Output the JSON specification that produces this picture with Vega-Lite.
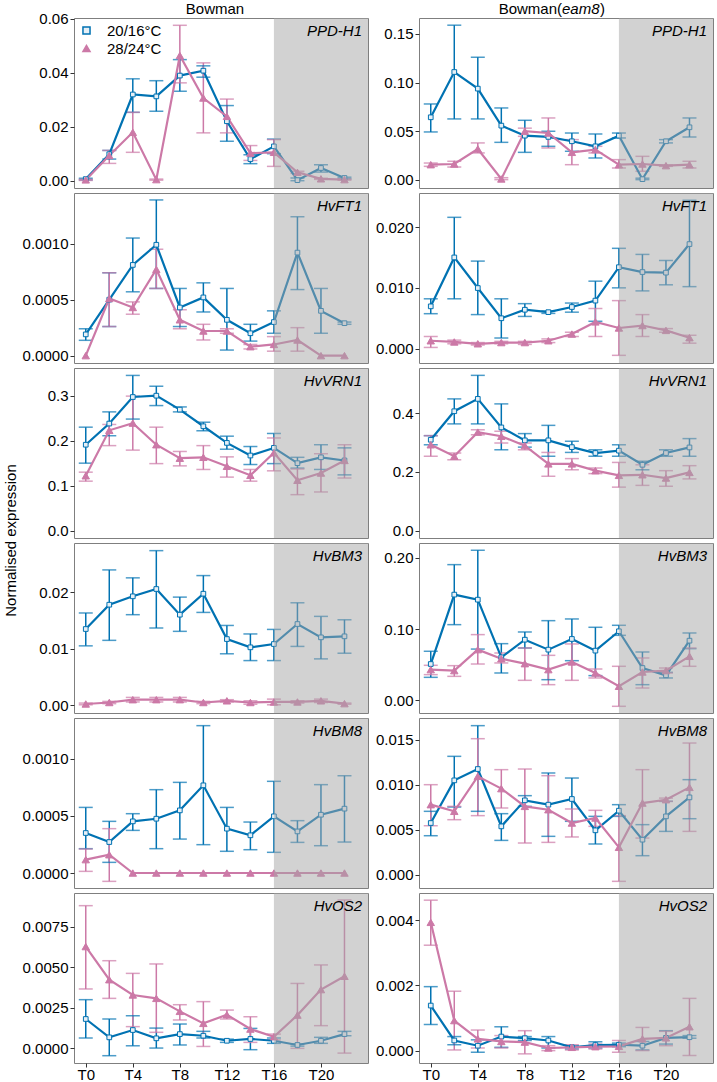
{
"$schema": "https://vega.github.io/schema/vega-lite/v6.json",
"padding": {"left": 2, "top": 1, "right": 0, "bottom": 0},
"datasets": {"d": [
{"g":"PPD-H1","c":"B","k":"20/16°C","t":0,"v":0.0006,"lo":0.0003,"hi":0.0009},
{"g":"PPD-H1","c":"B","k":"20/16°C","t":2,"v":0.0098,"lo":0.008,"hi":0.0112},
{"g":"PPD-H1","c":"B","k":"20/16°C","t":4,"v":0.0319,"lo":0.0253,"hi":0.0377},
{"g":"PPD-H1","c":"B","k":"20/16°C","t":6,"v":0.0312,"lo":0.0257,"hi":0.037},
{"g":"PPD-H1","c":"B","k":"20/16°C","t":8,"v":0.0389,"lo":0.0331,"hi":0.0448},
{"g":"PPD-H1","c":"B","k":"20/16°C","t":10,"v":0.0407,"lo":0.0383,"hi":0.0425},
{"g":"PPD-H1","c":"B","k":"20/16°C","t":12,"v":0.022,"lo":0.0146,"hi":0.0278},
{"g":"PPD-H1","c":"B","k":"20/16°C","t":14,"v":0.008,"lo":0.0063,"hi":0.0096},
{"g":"PPD-H1","c":"B","k":"20/16°C","t":16,"v":0.0127,"lo":0.01,"hi":0.0154},
{"g":"PPD-H1","c":"B","k":"20/16°C","t":18,"v":0.0002,"lo":0.0,"hi":0.001},
{"g":"PPD-H1","c":"B","k":"20/16°C","t":20,"v":0.0047,"lo":0.0032,"hi":0.0059},
{"g":"PPD-H1","c":"B","k":"20/16°C","t":22,"v":0.001,"lo":0.0007,"hi":0.0013},
{"g":"PPD-H1","c":"B","k":"28/24°C","t":0,"v":0.0003,"lo":0.0001,"hi":0.0005},
{"g":"PPD-H1","c":"B","k":"28/24°C","t":2,"v":0.0093,"lo":0.0064,"hi":0.0112},
{"g":"PPD-H1","c":"B","k":"28/24°C","t":4,"v":0.0179,"lo":0.0105,"hi":0.0253},
{"g":"PPD-H1","c":"B","k":"28/24°C","t":6,"v":0.0004,"lo":0.0002,"hi":0.0006},
{"g":"PPD-H1","c":"B","k":"28/24°C","t":8,"v":0.0463,"lo":0.0362,"hi":0.0575},
{"g":"PPD-H1","c":"B","k":"28/24°C","t":10,"v":0.0306,"lo":0.0177,"hi":0.0436},
{"g":"PPD-H1","c":"B","k":"28/24°C","t":12,"v":0.0238,"lo":0.0177,"hi":0.0302},
{"g":"PPD-H1","c":"B","k":"28/24°C","t":14,"v":0.0102,"lo":0.0075,"hi":0.013},
{"g":"PPD-H1","c":"B","k":"28/24°C","t":16,"v":0.0105,"lo":0.0053,"hi":0.0152},
{"g":"PPD-H1","c":"B","k":"28/24°C","t":18,"v":0.0031,"lo":0.0027,"hi":0.0035},
{"g":"PPD-H1","c":"B","k":"28/24°C","t":20,"v":0.0007,"lo":0.0005,"hi":0.0009},
{"g":"PPD-H1","c":"B","k":"28/24°C","t":22,"v":0.0004,"lo":0.0002,"hi":0.0006},

{"g":"PPD-H1","c":"E","k":"20/16°C","t":0,"v":0.0642,"lo":0.0491,"hi":0.0779},
{"g":"PPD-H1","c":"E","k":"20/16°C","t":2,"v":0.1108,"lo":0.0625,"hi":0.159},
{"g":"PPD-H1","c":"E","k":"20/16°C","t":4,"v":0.0937,"lo":0.0625,"hi":0.126},
{"g":"PPD-H1","c":"E","k":"20/16°C","t":6,"v":0.0556,"lo":0.0384,"hi":0.0738},
{"g":"PPD-H1","c":"E","k":"20/16°C","t":8,"v":0.0453,"lo":0.0281,"hi":0.0611},
{"g":"PPD-H1","c":"E","k":"20/16°C","t":10,"v":0.044,"lo":0.0343,"hi":0.0498},
{"g":"PPD-H1","c":"E","k":"20/16°C","t":12,"v":0.0395,"lo":0.0292,"hi":0.048},
{"g":"PPD-H1","c":"E","k":"20/16°C","t":14,"v":0.0343,"lo":0.0223,"hi":0.047},
{"g":"PPD-H1","c":"E","k":"20/16°C","t":16,"v":0.0453,"lo":0.0429,"hi":0.048},
{"g":"PPD-H1","c":"E","k":"20/16°C","t":18,"v":0.0005,"lo":0.0,"hi":0.0015},
{"g":"PPD-H1","c":"E","k":"20/16°C","t":20,"v":0.0395,"lo":0.0378,"hi":0.0412},
{"g":"PPD-H1","c":"E","k":"20/16°C","t":22,"v":0.0539,"lo":0.0439,"hi":0.0635},
{"g":"PPD-H1","c":"E","k":"28/24°C","t":0,"v":0.0154,"lo":0.0137,"hi":0.0171},
{"g":"PPD-H1","c":"E","k":"28/24°C","t":2,"v":0.0161,"lo":0.013,"hi":0.0189},
{"g":"PPD-H1","c":"E","k":"28/24°C","t":4,"v":0.0316,"lo":0.0275,"hi":0.0378},
{"g":"PPD-H1","c":"E","k":"28/24°C","t":6,"v":0.0007,"lo":0.0,"hi":0.002},
{"g":"PPD-H1","c":"E","k":"28/24°C","t":8,"v":0.0498,"lo":0.0446,"hi":0.053},
{"g":"PPD-H1","c":"E","k":"28/24°C","t":10,"v":0.048,"lo":0.0326,"hi":0.0635},
{"g":"PPD-H1","c":"E","k":"28/24°C","t":12,"v":0.0281,"lo":0.0154,"hi":0.0412},
{"g":"PPD-H1","c":"E","k":"28/24°C","t":14,"v":0.0309,"lo":0.0275,"hi":0.0343},
{"g":"PPD-H1","c":"E","k":"28/24°C","t":16,"v":0.0154,"lo":0.012,"hi":0.0206},
{"g":"PPD-H1","c":"E","k":"28/24°C","t":18,"v":0.0161,"lo":0.0086,"hi":0.024},
{"g":"PPD-H1","c":"E","k":"28/24°C","t":20,"v":0.0144,"lo":0.0137,"hi":0.0151},
{"g":"PPD-H1","c":"E","k":"28/24°C","t":22,"v":0.0154,"lo":0.012,"hi":0.0189},

{"g":"HvFT1","c":"B","k":"20/16°C","t":0,"v":0.00019,"lo":0.000137,"hi":0.00024},
{"g":"HvFT1","c":"B","k":"20/16°C","t":2,"v":0.0005,"lo":0.00026,"hi":0.00074},
{"g":"HvFT1","c":"B","k":"20/16°C","t":4,"v":0.00081,"lo":0.00057,"hi":0.00105},
{"g":"HvFT1","c":"B","k":"20/16°C","t":6,"v":0.00099,"lo":0.0006,"hi":0.00139},
{"g":"HvFT1","c":"B","k":"20/16°C","t":8,"v":0.00043,"lo":0.00026,"hi":0.0006},
{"g":"HvFT1","c":"B","k":"20/16°C","t":10,"v":0.00052,"lo":0.00039,"hi":0.00065},
{"g":"HvFT1","c":"B","k":"20/16°C","t":12,"v":0.00032,"lo":0.00005,"hi":0.0006},
{"g":"HvFT1","c":"B","k":"20/16°C","t":14,"v":0.0002,"lo":0.00013,"hi":0.00028},
{"g":"HvFT1","c":"B","k":"20/16°C","t":16,"v":0.0003,"lo":0.0002,"hi":0.0004},
{"g":"HvFT1","c":"B","k":"20/16°C","t":18,"v":0.00092,"lo":0.00059,"hi":0.00124},
{"g":"HvFT1","c":"B","k":"20/16°C","t":20,"v":0.0004,"lo":0.0002,"hi":0.0006},
{"g":"HvFT1","c":"B","k":"20/16°C","t":22,"v":0.00029,"lo":0.00028,"hi":0.0003},
{"g":"HvFT1","c":"B","k":"28/24°C","t":0,"v":0.0,"lo":0.0,"hi":0.0},
{"g":"HvFT1","c":"B","k":"28/24°C","t":2,"v":0.00051,"lo":0.00026,"hi":0.00074},
{"g":"HvFT1","c":"B","k":"28/24°C","t":4,"v":0.00043,"lo":0.00037,"hi":0.00048},
{"g":"HvFT1","c":"B","k":"28/24°C","t":6,"v":0.00077,"lo":0.0006,"hi":0.00095},
{"g":"HvFT1","c":"B","k":"28/24°C","t":8,"v":0.00032,"lo":0.00024,"hi":0.00041},
{"g":"HvFT1","c":"B","k":"28/24°C","t":10,"v":0.00022,"lo":0.00014,"hi":0.00028},
{"g":"HvFT1","c":"B","k":"28/24°C","t":12,"v":0.00022,"lo":0.0002,"hi":0.00024},
{"g":"HvFT1","c":"B","k":"28/24°C","t":14,"v":0.00008,"lo":0.00006,"hi":0.0001},
{"g":"HvFT1","c":"B","k":"28/24°C","t":16,"v":0.0001,"lo":0.00004,"hi":0.00017},
{"g":"HvFT1","c":"B","k":"28/24°C","t":18,"v":0.00014,"lo":0.00004,"hi":0.00025},
{"g":"HvFT1","c":"B","k":"28/24°C","t":20,"v":0.0,"lo":0.0,"hi":0.0},
{"g":"HvFT1","c":"B","k":"28/24°C","t":22,"v":0.0,"lo":0.0,"hi":0.0},

{"g":"HvFT1","c":"E","k":"20/16°C","t":0,"v":0.00696,"lo":0.00575,"hi":0.0082},
{"g":"HvFT1","c":"E","k":"20/16°C","t":2,"v":0.015,"lo":0.0082,"hi":0.0216},
{"g":"HvFT1","c":"E","k":"20/16°C","t":4,"v":0.00997,"lo":0.0056,"hi":0.0144},
{"g":"HvFT1","c":"E","k":"20/16°C","t":6,"v":0.005,"lo":0.00175,"hi":0.0082},
{"g":"HvFT1","c":"E","k":"20/16°C","t":8,"v":0.0064,"lo":0.0053,"hi":0.0074},
{"g":"HvFT1","c":"E","k":"20/16°C","t":10,"v":0.006,"lo":0.0058,"hi":0.0062},
{"g":"HvFT1","c":"E","k":"20/16°C","t":12,"v":0.00685,"lo":0.006,"hi":0.0075},
{"g":"HvFT1","c":"E","k":"20/16°C","t":14,"v":0.0079,"lo":0.0045,"hi":0.0111},
{"g":"HvFT1","c":"E","k":"20/16°C","t":16,"v":0.0134,"lo":0.01,"hi":0.0165},
{"g":"HvFT1","c":"E","k":"20/16°C","t":18,"v":0.0126,"lo":0.0095,"hi":0.0155},
{"g":"HvFT1","c":"E","k":"20/16°C","t":20,"v":0.0125,"lo":0.0105,"hi":0.0145},
{"g":"HvFT1","c":"E","k":"20/16°C","t":22,"v":0.0172,"lo":0.0102,"hi":0.0244},
{"g":"HvFT1","c":"E","k":"28/24°C","t":0,"v":0.0013,"lo":0.0002,"hi":0.002},
{"g":"HvFT1","c":"E","k":"28/24°C","t":2,"v":0.0011,"lo":0.0008,"hi":0.0014},
{"g":"HvFT1","c":"E","k":"28/24°C","t":4,"v":0.0008,"lo":0.0006,"hi":0.001},
{"g":"HvFT1","c":"E","k":"28/24°C","t":6,"v":0.001,"lo":0.0008,"hi":0.0012},
{"g":"HvFT1","c":"E","k":"28/24°C","t":8,"v":0.001,"lo":0.0007,"hi":0.0012},
{"g":"HvFT1","c":"E","k":"28/24°C","t":10,"v":0.0013,"lo":0.001,"hi":0.0016},
{"g":"HvFT1","c":"E","k":"28/24°C","t":12,"v":0.0024,"lo":0.002,"hi":0.0027},
{"g":"HvFT1","c":"E","k":"28/24°C","t":14,"v":0.0044,"lo":0.002,"hi":0.0066},
{"g":"HvFT1","c":"E","k":"28/24°C","t":16,"v":0.0034,"lo":-0.0011,"hi":0.0079},
{"g":"HvFT1","c":"E","k":"28/24°C","t":18,"v":0.0038,"lo":0.002,"hi":0.0056},
{"g":"HvFT1","c":"E","k":"28/24°C","t":20,"v":0.003,"lo":0.0027,"hi":0.0033},
{"g":"HvFT1","c":"E","k":"28/24°C","t":22,"v":0.0018,"lo":0.0009,"hi":0.0022},

{"g":"HvVRN1","c":"B","k":"20/16°C","t":0,"v":0.191,"lo":0.15,"hi":0.23},
{"g":"HvVRN1","c":"B","k":"20/16°C","t":2,"v":0.238,"lo":0.211,"hi":0.264},
{"g":"HvVRN1","c":"B","k":"20/16°C","t":4,"v":0.297,"lo":0.248,"hi":0.345},
{"g":"HvVRN1","c":"B","k":"20/16°C","t":6,"v":0.3,"lo":0.278,"hi":0.321},
{"g":"HvVRN1","c":"B","k":"20/16°C","t":8,"v":0.269,"lo":0.264,"hi":0.275},
{"g":"HvVRN1","c":"B","k":"20/16°C","t":10,"v":0.232,"lo":0.222,"hi":0.241},
{"g":"HvVRN1","c":"B","k":"20/16°C","t":12,"v":0.195,"lo":0.181,"hi":0.21},
{"g":"HvVRN1","c":"B","k":"20/16°C","t":14,"v":0.167,"lo":0.147,"hi":0.187},
{"g":"HvVRN1","c":"B","k":"20/16°C","t":16,"v":0.184,"lo":0.149,"hi":0.216},
{"g":"HvVRN1","c":"B","k":"20/16°C","t":18,"v":0.15,"lo":0.139,"hi":0.163},
{"g":"HvVRN1","c":"B","k":"20/16°C","t":20,"v":0.163,"lo":0.136,"hi":0.191},
{"g":"HvVRN1","c":"B","k":"20/16°C","t":22,"v":0.156,"lo":0.124,"hi":0.184},
{"g":"HvVRN1","c":"B","k":"28/24°C","t":0,"v":0.122,"lo":0.11,"hi":0.13},
{"g":"HvVRN1","c":"B","k":"28/24°C","t":2,"v":0.223,"lo":0.189,"hi":0.236},
{"g":"HvVRN1","c":"B","k":"28/24°C","t":4,"v":0.239,"lo":0.179,"hi":0.299},
{"g":"HvVRN1","c":"B","k":"28/24°C","t":6,"v":0.191,"lo":0.149,"hi":0.23},
{"g":"HvVRN1","c":"B","k":"28/24°C","t":8,"v":0.161,"lo":0.144,"hi":0.176},
{"g":"HvVRN1","c":"B","k":"28/24°C","t":10,"v":0.163,"lo":0.136,"hi":0.189},
{"g":"HvVRN1","c":"B","k":"28/24°C","t":12,"v":0.143,"lo":0.119,"hi":0.164},
{"g":"HvVRN1","c":"B","k":"28/24°C","t":14,"v":0.123,"lo":0.11,"hi":0.136},
{"g":"HvVRN1","c":"B","k":"28/24°C","t":16,"v":0.173,"lo":0.133,"hi":0.206},
{"g":"HvVRN1","c":"B","k":"28/24°C","t":18,"v":0.112,"lo":0.08,"hi":0.137},
{"g":"HvVRN1","c":"B","k":"28/24°C","t":20,"v":0.128,"lo":0.086,"hi":0.171},
{"g":"HvVRN1","c":"B","k":"28/24°C","t":22,"v":0.156,"lo":0.117,"hi":0.191},

{"g":"HvVRN1","c":"E","k":"20/16°C","t":0,"v":0.309,"lo":0.292,"hi":0.323},
{"g":"HvVRN1","c":"E","k":"20/16°C","t":2,"v":0.406,"lo":0.363,"hi":0.448},
{"g":"HvVRN1","c":"E","k":"20/16°C","t":4,"v":0.448,"lo":0.363,"hi":0.528},
{"g":"HvVRN1","c":"E","k":"20/16°C","t":6,"v":0.351,"lo":0.275,"hi":0.431},
{"g":"HvVRN1","c":"E","k":"20/16°C","t":8,"v":0.307,"lo":0.284,"hi":0.33},
{"g":"HvVRN1","c":"E","k":"20/16°C","t":10,"v":0.307,"lo":0.253,"hi":0.358},
{"g":"HvVRN1","c":"E","k":"20/16°C","t":12,"v":0.284,"lo":0.266,"hi":0.304},
{"g":"HvVRN1","c":"E","k":"20/16°C","t":14,"v":0.264,"lo":0.253,"hi":0.275},
{"g":"HvVRN1","c":"E","k":"20/16°C","t":16,"v":0.272,"lo":0.253,"hi":0.292},
{"g":"HvVRN1","c":"E","k":"20/16°C","t":18,"v":0.224,"lo":0.207,"hi":0.236},
{"g":"HvVRN1","c":"E","k":"20/16°C","t":20,"v":0.264,"lo":0.253,"hi":0.275},
{"g":"HvVRN1","c":"E","k":"20/16°C","t":22,"v":0.283,"lo":0.253,"hi":0.313},
{"g":"HvVRN1","c":"E","k":"28/24°C","t":0,"v":0.292,"lo":0.253,"hi":0.323},
{"g":"HvVRN1","c":"E","k":"28/24°C","t":2,"v":0.253,"lo":0.241,"hi":0.264},
{"g":"HvVRN1","c":"E","k":"28/24°C","t":4,"v":0.335,"lo":0.326,"hi":0.343},
{"g":"HvVRN1","c":"E","k":"28/24°C","t":6,"v":0.321,"lo":0.298,"hi":0.338},
{"g":"HvVRN1","c":"E","k":"28/24°C","t":8,"v":0.289,"lo":0.275,"hi":0.298},
{"g":"HvVRN1","c":"E","k":"28/24°C","t":10,"v":0.227,"lo":0.185,"hi":0.266},
{"g":"HvVRN1","c":"E","k":"28/24°C","t":12,"v":0.227,"lo":0.207,"hi":0.245},
{"g":"HvVRN1","c":"E","k":"28/24°C","t":14,"v":0.204,"lo":0.194,"hi":0.213},
{"g":"HvVRN1","c":"E","k":"28/24°C","t":16,"v":0.188,"lo":0.148,"hi":0.232},
{"g":"HvVRN1","c":"E","k":"28/24°C","t":18,"v":0.19,"lo":0.154,"hi":0.224},
{"g":"HvVRN1","c":"E","k":"28/24°C","t":20,"v":0.179,"lo":0.151,"hi":0.204},
{"g":"HvVRN1","c":"E","k":"28/24°C","t":22,"v":0.198,"lo":0.176,"hi":0.221},

{"g":"HvBM3","c":"B","k":"20/16°C","t":0,"v":0.01347,"lo":0.0105,"hi":0.0163},
{"g":"HvBM3","c":"B","k":"20/16°C","t":2,"v":0.01776,"lo":0.01147,"hi":0.0239},
{"g":"HvBM3","c":"B","k":"20/16°C","t":4,"v":0.01924,"lo":0.016,"hi":0.0225},
{"g":"HvBM3","c":"B","k":"20/16°C","t":6,"v":0.02053,"lo":0.01365,"hi":0.0273},
{"g":"HvBM3","c":"B","k":"20/16°C","t":8,"v":0.016,"lo":0.01306,"hi":0.0191},
{"g":"HvBM3","c":"B","k":"20/16°C","t":10,"v":0.0197,"lo":0.0164,"hi":0.0229},
{"g":"HvBM3","c":"B","k":"20/16°C","t":12,"v":0.0117,"lo":0.0091,"hi":0.0141},
{"g":"HvBM3","c":"B","k":"20/16°C","t":14,"v":0.01024,"lo":0.0079,"hi":0.0126},
{"g":"HvBM3","c":"B","k":"20/16°C","t":16,"v":0.01082,"lo":0.0079,"hi":0.0134},
{"g":"HvBM3","c":"B","k":"20/16°C","t":18,"v":0.01435,"lo":0.0104,"hi":0.0181},
{"g":"HvBM3","c":"B","k":"20/16°C","t":20,"v":0.012,"lo":0.0082,"hi":0.0157},
{"g":"HvBM3","c":"B","k":"20/16°C","t":22,"v":0.01218,"lo":0.0092,"hi":0.0151},
{"g":"HvBM3","c":"B","k":"28/24°C","t":0,"v":0.00024,"lo":0.0001,"hi":0.0004},
{"g":"HvBM3","c":"B","k":"28/24°C","t":2,"v":0.0005,"lo":0.0003,"hi":0.0007},
{"g":"HvBM3","c":"B","k":"28/24°C","t":4,"v":0.001,"lo":0.0006,"hi":0.0014},
{"g":"HvBM3","c":"B","k":"28/24°C","t":6,"v":0.001,"lo":0.0006,"hi":0.0014},
{"g":"HvBM3","c":"B","k":"28/24°C","t":8,"v":0.001,"lo":0.0006,"hi":0.0014},
{"g":"HvBM3","c":"B","k":"28/24°C","t":10,"v":0.0005,"lo":0.0003,"hi":0.0007},
{"g":"HvBM3","c":"B","k":"28/24°C","t":12,"v":0.0008,"lo":0.0006,"hi":0.001},
{"g":"HvBM3","c":"B","k":"28/24°C","t":14,"v":0.0005,"lo":0.0002,"hi":0.0008},
{"g":"HvBM3","c":"B","k":"28/24°C","t":16,"v":0.0006,"lo":0.0001,"hi":0.0011},
{"g":"HvBM3","c":"B","k":"28/24°C","t":18,"v":0.0006,"lo":0.0004,"hi":0.0008},
{"g":"HvBM3","c":"B","k":"28/24°C","t":20,"v":0.0008,"lo":0.0005,"hi":0.0011},
{"g":"HvBM3","c":"B","k":"28/24°C","t":22,"v":0.0003,"lo":0.0002,"hi":0.0004},

{"g":"HvBM3","c":"E","k":"20/16°C","t":0,"v":0.051,"lo":0.0323,"hi":0.0689},
{"g":"HvBM3","c":"E","k":"20/16°C","t":2,"v":0.1485,"lo":0.1063,"hi":0.1906},
{"g":"HvBM3","c":"E","k":"20/16°C","t":4,"v":0.1414,"lo":0.072,"hi":0.2108},
{"g":"HvBM3","c":"E","k":"20/16°C","t":6,"v":0.0604,"lo":0.0384,"hi":0.0796},
{"g":"HvBM3","c":"E","k":"20/16°C","t":8,"v":0.0852,"lo":0.0735,"hi":0.096},
{"g":"HvBM3","c":"E","k":"20/16°C","t":10,"v":0.0712,"lo":0.029,"hi":0.1119},
{"g":"HvBM3","c":"E","k":"20/16°C","t":12,"v":0.0862,"lo":0.0557,"hi":0.1143},
{"g":"HvBM3","c":"E","k":"20/16°C","t":14,"v":0.0698,"lo":0.0347,"hi":0.1026},
{"g":"HvBM3","c":"E","k":"20/16°C","t":16,"v":0.097,"lo":0.0913,"hi":0.1054},
{"g":"HvBM3","c":"E","k":"20/16°C","t":18,"v":0.0454,"lo":0.022,"hi":0.0679},
{"g":"HvBM3","c":"E","k":"20/16°C","t":20,"v":0.0351,"lo":0.0314,"hi":0.0393},
{"g":"HvBM3","c":"E","k":"20/16°C","t":22,"v":0.0838,"lo":0.0726,"hi":0.0946},
{"g":"HvBM3","c":"E","k":"28/24°C","t":0,"v":0.0431,"lo":0.0361,"hi":0.0492},
{"g":"HvBM3","c":"E","k":"28/24°C","t":2,"v":0.0417,"lo":0.0337,"hi":0.0487},
{"g":"HvBM3","c":"E","k":"28/24°C","t":4,"v":0.0712,"lo":0.051,"hi":0.0923},
{"g":"HvBM3","c":"E","k":"28/24°C","t":6,"v":0.0585,"lo":0.0525,"hi":0.0665},
{"g":"HvBM3","c":"E","k":"28/24°C","t":8,"v":0.0515,"lo":0.0281,"hi":0.0735},
{"g":"HvBM3","c":"E","k":"28/24°C","t":10,"v":0.0431,"lo":0.022,"hi":0.0632},
{"g":"HvBM3","c":"E","k":"28/24°C","t":12,"v":0.0539,"lo":0.0281,"hi":0.0792},
{"g":"HvBM3","c":"E","k":"28/24°C","t":14,"v":0.0384,"lo":0.0314,"hi":0.044},
{"g":"HvBM3","c":"E","k":"28/24°C","t":16,"v":0.0197,"lo":-0.0084,"hi":0.0478},
{"g":"HvBM3","c":"E","k":"28/24°C","t":18,"v":0.0398,"lo":0.0173,"hi":0.0595},
{"g":"HvBM3","c":"E","k":"28/24°C","t":20,"v":0.0417,"lo":0.0384,"hi":0.0454},
{"g":"HvBM3","c":"E","k":"28/24°C","t":22,"v":0.0618,"lo":0.0478,"hi":0.0735},

{"g":"HvBM8","c":"B","k":"20/16°C","t":0,"v":0.00035,"lo":0.000213,"hi":0.000574},
{"g":"HvBM8","c":"B","k":"20/16°C","t":2,"v":0.000271,"lo":0.0000933,"hi":0.000452},
{"g":"HvBM8","c":"B","k":"20/16°C","t":4,"v":0.000452,"lo":0.000373,"hi":0.000519},
{"g":"HvBM8","c":"B","k":"20/16°C","t":6,"v":0.000475,"lo":0.000213,"hi":0.000729},
{"g":"HvBM8","c":"B","k":"20/16°C","t":8,"v":0.000548,"lo":0.000297,"hi":0.000793},
{"g":"HvBM8","c":"B","k":"20/16°C","t":10,"v":0.000767,"lo":0.000248,"hi":0.001289},
{"g":"HvBM8","c":"B","k":"20/16°C","t":12,"v":0.000388,"lo":0.00019,"hi":0.000574},
{"g":"HvBM8","c":"B","k":"20/16°C","t":14,"v":0.00033,"lo":0.000204,"hi":0.000446},
{"g":"HvBM8","c":"B","k":"20/16°C","t":16,"v":0.000496,"lo":0.000181,"hi":0.000802},
{"g":"HvBM8","c":"B","k":"20/16°C","t":18,"v":0.000364,"lo":0.000268,"hi":0.000458},
{"g":"HvBM8","c":"B","k":"20/16°C","t":20,"v":0.00051,"lo":0.000239,"hi":0.000773},
{"g":"HvBM8","c":"B","k":"20/16°C","t":22,"v":0.000563,"lo":0.000271,"hi":0.000851},
{"g":"HvBM8","c":"B","k":"28/24°C","t":0,"v":0.000117,"lo":0.0000146,"hi":0.00021},
{"g":"HvBM8","c":"B","k":"28/24°C","t":2,"v":0.00016,"lo":-0.0000729,"hi":0.000388},
{"g":"HvBM8","c":"B","k":"28/24°C","t":4,"v":0.0,"lo":0.0,"hi":0.0},
{"g":"HvBM8","c":"B","k":"28/24°C","t":6,"v":0.0,"lo":0.0,"hi":0.0},
{"g":"HvBM8","c":"B","k":"28/24°C","t":8,"v":0.0,"lo":0.0,"hi":0.0},
{"g":"HvBM8","c":"B","k":"28/24°C","t":10,"v":0.0,"lo":0.0,"hi":0.0},
{"g":"HvBM8","c":"B","k":"28/24°C","t":12,"v":0.0,"lo":0.0,"hi":0.0},
{"g":"HvBM8","c":"B","k":"28/24°C","t":14,"v":0.0,"lo":0.0,"hi":0.0},
{"g":"HvBM8","c":"B","k":"28/24°C","t":16,"v":0.0,"lo":0.0,"hi":0.0},
{"g":"HvBM8","c":"B","k":"28/24°C","t":18,"v":0.0,"lo":0.0,"hi":0.0},
{"g":"HvBM8","c":"B","k":"28/24°C","t":20,"v":0.0,"lo":0.0,"hi":0.0},
{"g":"HvBM8","c":"B","k":"28/24°C","t":22,"v":0.0,"lo":0.0,"hi":0.0},

{"g":"HvBM8","c":"E","k":"20/16°C","t":0,"v":0.00574,"lo":0.00433,"hi":0.00704},
{"g":"HvBM8","c":"E","k":"20/16°C","t":2,"v":0.01048,"lo":0.00752,"hi":0.01315},
{"g":"HvBM8","c":"E","k":"20/16°C","t":4,"v":0.01174,"lo":0.00704,"hi":0.01656},
{"g":"HvBM8","c":"E","k":"20/16°C","t":6,"v":0.00537,"lo":0.00381,"hi":0.00678},
{"g":"HvBM8","c":"E","k":"20/16°C","t":8,"v":0.00826,"lo":0.00759,"hi":0.00878},
{"g":"HvBM8","c":"E","k":"20/16°C","t":10,"v":0.00778,"lo":0.00426,"hi":0.0113},
{"g":"HvBM8","c":"E","k":"20/16°C","t":12,"v":0.00841,"lo":0.00593,"hi":0.01074},
{"g":"HvBM8","c":"E","k":"20/16°C","t":14,"v":0.00493,"lo":0.00341,"hi":0.00648},
{"g":"HvBM8","c":"E","k":"20/16°C","t":16,"v":0.00711,"lo":0.00648,"hi":0.00778},
{"g":"HvBM8","c":"E","k":"20/16°C","t":18,"v":0.00389,"lo":0.00211,"hi":0.00556},
{"g":"HvBM8","c":"E","k":"20/16°C","t":20,"v":0.00648,"lo":0.00481,"hi":0.00815},
{"g":"HvBM8","c":"E","k":"20/16°C","t":22,"v":0.00859,"lo":0.00622,"hi":0.01056},
{"g":"HvBM8","c":"E","k":"28/24°C","t":0,"v":0.00778,"lo":0.00544,"hi":0.01},
{"g":"HvBM8","c":"E","k":"28/24°C","t":2,"v":0.00704,"lo":0.00611,"hi":0.00759},
{"g":"HvBM8","c":"E","k":"28/24°C","t":4,"v":0.01093,"lo":0.00656,"hi":0.01511},
{"g":"HvBM8","c":"E","k":"28/24°C","t":6,"v":0.00956,"lo":0.00741,"hi":0.01167},
{"g":"HvBM8","c":"E","k":"28/24°C","t":8,"v":0.00759,"lo":0.00352,"hi":0.01174},
{"g":"HvBM8","c":"E","k":"28/24°C","t":10,"v":0.00722,"lo":0.00359,"hi":0.011},
{"g":"HvBM8","c":"E","k":"28/24°C","t":12,"v":0.00574,"lo":0.00419,"hi":0.0073},
{"g":"HvBM8","c":"E","k":"28/24°C","t":14,"v":0.0063,"lo":0.00537,"hi":0.00715},
{"g":"HvBM8","c":"E","k":"28/24°C","t":16,"v":0.00304,"lo":-0.00074,"hi":0.00656},
{"g":"HvBM8","c":"E","k":"28/24°C","t":18,"v":0.00796,"lo":0.00407,"hi":0.01167},
{"g":"HvBM8","c":"E","k":"28/24°C","t":20,"v":0.00833,"lo":0.00815,"hi":0.00851},
{"g":"HvBM8","c":"E","k":"28/24°C","t":22,"v":0.0097,"lo":0.00481,"hi":0.01463},

{"g":"HvOS2","c":"B","k":"20/16°C","t":0,"v":0.00181,"lo":0.00064,"hi":0.003},
{"g":"HvOS2","c":"B","k":"20/16°C","t":2,"v":0.00068,"lo":-0.00045,"hi":0.00181},
{"g":"HvOS2","c":"B","k":"20/16°C","t":4,"v":0.00113,"lo":0.00016,"hi":0.00201},
{"g":"HvOS2","c":"B","k":"20/16°C","t":6,"v":0.00062,"lo":0.00002,"hi":0.00125},
{"g":"HvOS2","c":"B","k":"20/16°C","t":8,"v":0.00088,"lo":0.00021,"hi":0.0015},
{"g":"HvOS2","c":"B","k":"20/16°C","t":10,"v":0.00078,"lo":0.00064,"hi":0.00105},
{"g":"HvOS2","c":"B","k":"20/16°C","t":12,"v":0.00047,"lo":0.00037,"hi":0.00057},
{"g":"HvOS2","c":"B","k":"20/16°C","t":14,"v":0.00058,"lo":-0.00008,"hi":0.00123},
{"g":"HvOS2","c":"B","k":"20/16°C","t":16,"v":0.00047,"lo":0.00031,"hi":0.00064},
{"g":"HvOS2","c":"B","k":"20/16°C","t":18,"v":0.00021,"lo":0.00014,"hi":0.00027},
{"g":"HvOS2","c":"B","k":"20/16°C","t":20,"v":0.00047,"lo":0.00031,"hi":0.00068},
{"g":"HvOS2","c":"B","k":"20/16°C","t":22,"v":0.00088,"lo":0.00078,"hi":0.00105},
{"g":"HvOS2","c":"B","k":"28/24°C","t":0,"v":0.00627,"lo":0.00366,"hi":0.00879},
{"g":"HvOS2","c":"B","k":"28/24°C","t":2,"v":0.00423,"lo":0.00308,"hi":0.0054},
{"g":"HvOS2","c":"B","k":"28/24°C","t":4,"v":0.00329,"lo":0.00134,"hi":0.00462},
{"g":"HvOS2","c":"B","k":"28/24°C","t":6,"v":0.00308,"lo":0.00099,"hi":0.0052},
{"g":"HvOS2","c":"B","k":"28/24°C","t":8,"v":0.00228,"lo":0.00175,"hi":0.00269},
{"g":"HvOS2","c":"B","k":"28/24°C","t":10,"v":0.00154,"lo":0.00012,"hi":0.00288},
{"g":"HvOS2","c":"B","k":"28/24°C","t":12,"v":0.00207,"lo":0.00181,"hi":0.00236},
{"g":"HvOS2","c":"B","k":"28/24°C","t":14,"v":0.00119,"lo":0.00037,"hi":0.00195},
{"g":"HvOS2","c":"B","k":"28/24°C","t":16,"v":0.00072,"lo":0.00052,"hi":0.00088},
{"g":"HvOS2","c":"B","k":"28/24°C","t":18,"v":0.00205,"lo":0.0,"hi":0.004},
{"g":"HvOS2","c":"B","k":"28/24°C","t":20,"v":0.00362,"lo":0.0014,"hi":0.00514},
{"g":"HvOS2","c":"B","k":"28/24°C","t":22,"v":0.00444,"lo":-0.00029,"hi":0.00914},

{"g":"HvOS2","c":"E","k":"20/16°C","t":0,"v":0.00138,"lo":0.0008,"hi":0.00196},
{"g":"HvOS2","c":"E","k":"20/16°C","t":2,"v":0.00031,"lo":0.00018,"hi":0.00043},
{"g":"HvOS2","c":"E","k":"20/16°C","t":4,"v":0.00015,"lo":-0.00005,"hi":0.00033},
{"g":"HvOS2","c":"E","k":"20/16°C","t":6,"v":0.00043,"lo":0.0001,"hi":0.00073},
{"g":"HvOS2","c":"E","k":"20/16°C","t":8,"v":0.00038,"lo":0.00031,"hi":0.00043},
{"g":"HvOS2","c":"E","k":"20/16°C","t":10,"v":0.00031,"lo":0.00008,"hi":0.00043},
{"g":"HvOS2","c":"E","k":"20/16°C","t":12,"v":0.0001,"lo":0.00005,"hi":0.00015},
{"g":"HvOS2","c":"E","k":"20/16°C","t":14,"v":0.00017,"lo":0.00008,"hi":0.00027},
{"g":"HvOS2","c":"E","k":"20/16°C","t":16,"v":0.00018,"lo":0.00012,"hi":0.00023},
{"g":"HvOS2","c":"E","k":"20/16°C","t":18,"v":0.00015,"lo":0.00002,"hi":0.00028},
{"g":"HvOS2","c":"E","k":"20/16°C","t":20,"v":0.00039,"lo":0.0002,"hi":0.00061},
{"g":"HvOS2","c":"E","k":"20/16°C","t":22,"v":0.00041,"lo":0.00038,"hi":0.00046},
{"g":"HvOS2","c":"E","k":"28/24°C","t":0,"v":0.00393,"lo":0.00323,"hi":0.00461},
{"g":"HvOS2","c":"E","k":"28/24°C","t":2,"v":0.00092,"lo":0.00002,"hi":0.00182},
{"g":"HvOS2","c":"E","k":"28/24°C","t":4,"v":0.00036,"lo":0.00008,"hi":0.00063},
{"g":"HvOS2","c":"E","k":"28/24°C","t":6,"v":0.00028,"lo":0.00008,"hi":0.00046},
{"g":"HvOS2","c":"E","k":"28/24°C","t":8,"v":0.00026,"lo":-0.0001,"hi":0.00061},
{"g":"HvOS2","c":"E","k":"28/24°C","t":10,"v":0.00008,"lo":0.0,"hi":0.00015},
{"g":"HvOS2","c":"E","k":"28/24°C","t":12,"v":0.0001,"lo":0.00002,"hi":0.00018},
{"g":"HvOS2","c":"E","k":"28/24°C","t":14,"v":0.00012,"lo":0.00005,"hi":0.0002},
{"g":"HvOS2","c":"E","k":"28/24°C","t":16,"v":0.00013,"lo":-0.00005,"hi":0.00031},
{"g":"HvOS2","c":"E","k":"28/24°C","t":18,"v":0.00036,"lo":0.0,"hi":0.00071},
{"g":"HvOS2","c":"E","k":"28/24°C","t":20,"v":0.00039,"lo":0.00015,"hi":0.00059},
{"g":"HvOS2","c":"E","k":"28/24°C","t":22,"v":0.00073,"lo":-0.00015,"hi":0.0016}
]},
"spacing": 5,
"resolve": {"legend": {"stroke": "independent", "fill": "independent", "shape": "independent"}},
"hconcat": [
{"vconcat": [
{"width":294,"height":170,"layer":[
 {"data":{"name":"d"},"transform":[{"filter":"datum.g==='PPD-H1'&&datum.c==='B'"}],
  "encoding":{"x":{"field":"t","type":"quantitative","scale":{"domain":[-1,24],"nice":false,"zero":false},"axis":null},"color":{"field":"k","type":"nominal","scale":{"domain":["20/16°C","28/24°C"],"range":["#0072B2","#CC79A7"]},"legend":null}},
  "layer":[
   {"mark":{"type":"rule","strokeWidth":1.5},"encoding":{"y":{"field":"lo","type":"quantitative","scale":{"domain":[-0.0027,0.0602],"nice":false,"zero":false},"axis":{"values":[0,0.02,0.04,0.06],"format":".2f","title":null}},"y2":{"field":"hi"}}},
   {"transform":[{"filter":"datum.hi>datum.lo"},{"fold":["lo","hi"],"as":["kk","val"]}],"mark":{"type":"tick","orient":"horizontal","size":14,"thickness":1.5},"encoding":{"y":{"field":"val","type":"quantitative","scale":{"domain":[-0.0027,0.0602],"nice":false,"zero":false},"axis":{"values":[0,0.02,0.04,0.06],"format":".2f","title":null}}}},
   {"mark":{"type":"line","strokeWidth":2.2},"encoding":{"y":{"field":"v","type":"quantitative","scale":{"domain":[-0.0027,0.0602],"nice":false,"zero":false},"axis":{"values":[0,0.02,0.04,0.06],"format":".2f","title":null}}}},
   {"mark":{"type":"point","opacity":1,"strokeWidth":1},"encoding":{"y":{"field":"v","type":"quantitative","scale":{"domain":[-0.0027,0.0602],"nice":false,"zero":false},"axis":{"values":[0,0.02,0.04,0.06],"format":".2f","title":null}},
     "stroke":{"field":"k","type":"nominal","scale":{"domain":["20/16°C","28/24°C"],"range":["#0072B2","#CC79A7"]},"legend":{"title":null}},
     "fill":{"field":"k","type":"nominal","scale":{"domain":["20/16°C","28/24°C"],"range":["#e6eff6","#CC79A7"]},"legend":{"title":null}},
     "shape":{"field":"k","type":"nominal","scale":{"domain":["20/16°C","28/24°C"],"range":["square","triangle-up"]},"legend":{"title":null}},
     "size":{"condition":{"test":"datum.k==='28/24°C'","value":55},"value":22}}}
  ]},
 {"data":{"values":[{"a":16,"b":24}]},"mark":{"type":"rect","color":"#a6a6a6","opacity":0.5},"encoding":{"x":{"field":"a","type":"quantitative","scale":{"domain":[-1,24],"nice":false,"zero":false},"axis":null},"x2":{"field":"b"}}},
 {"data":{"values":[{"g":"PPD-H1"}]},"mark":{"type":"text","x":"width","dx":-6,"y":18,"align":"right","baseline":"alphabetic","fontSize":15,"fontStyle":"italic","font":"Liberation Sans","color":"#000"},"encoding":{"text":{"field":"g"}}},
 {"data":{"values":[{"s":"Bowman"}]},"mark":{"type":"text","x":141,"y":-4,"align":"center","baseline":"alphabetic","fontSize":15,"font":"Liberation Sans","color":"#000"},"encoding":{"text":{"field":"s"}}}
]},
{"width":294,"height":170,"layer":[
 {"data":{"name":"d"},"transform":[{"filter":"datum.g==='HvFT1'&&datum.c==='B'"}],
  "encoding":{"x":{"field":"t","type":"quantitative","scale":{"domain":[-1,24],"nice":false,"zero":false},"axis":null},"color":{"field":"k","type":"nominal","scale":{"domain":["20/16°C","28/24°C"],"range":["#0072B2","#CC79A7"]},"legend":null}},
  "layer":[
   {"mark":{"type":"rule","strokeWidth":1.5},"encoding":{"y":{"field":"lo","type":"quantitative","scale":{"domain":[-0.0000655,0.001452],"nice":false,"zero":false},"axis":{"values":[0,0.0005,0.001],"format":".4f","title":null}},"y2":{"field":"hi"}}},
   {"transform":[{"filter":"datum.hi>datum.lo"},{"fold":["lo","hi"],"as":["kk","val"]}],"mark":{"type":"tick","orient":"horizontal","size":14,"thickness":1.5},"encoding":{"y":{"field":"val","type":"quantitative","scale":{"domain":[-0.0000655,0.001452],"nice":false,"zero":false},"axis":{"values":[0,0.0005,0.001],"format":".4f","title":null}}}},
   {"mark":{"type":"line","strokeWidth":2.2},"encoding":{"y":{"field":"v","type":"quantitative","scale":{"domain":[-0.0000655,0.001452],"nice":false,"zero":false},"axis":{"values":[0,0.0005,0.001],"format":".4f","title":null}}}},
   {"mark":{"type":"point","opacity":1,"strokeWidth":1},"encoding":{"y":{"field":"v","type":"quantitative","scale":{"domain":[-0.0000655,0.001452],"nice":false,"zero":false},"axis":{"values":[0,0.0005,0.001],"format":".4f","title":null}},
     "stroke":{"field":"k","type":"nominal","scale":{"domain":["20/16°C","28/24°C"],"range":["#0072B2","#CC79A7"]},"legend":null},
     "fill":{"field":"k","type":"nominal","scale":{"domain":["20/16°C","28/24°C"],"range":["#e6eff6","#CC79A7"]},"legend":null},
     "shape":{"field":"k","type":"nominal","scale":{"domain":["20/16°C","28/24°C"],"range":["square","triangle-up"]},"legend":null},
     "size":{"condition":{"test":"datum.k==='28/24°C'","value":55},"value":22}}}
  ]},
 {"data":{"values":[{"a":16,"b":24}]},"mark":{"type":"rect","color":"#a6a6a6","opacity":0.5},"encoding":{"x":{"field":"a","type":"quantitative","scale":{"domain":[-1,24],"nice":false,"zero":false},"axis":null},"x2":{"field":"b"}}},
 {"data":{"values":[{"g":"HvFT1"}]},"mark":{"type":"text","x":"width","dx":-6,"y":18,"align":"right","baseline":"alphabetic","fontSize":15,"fontStyle":"italic","font":"Liberation Sans","color":"#000"},"encoding":{"text":{"field":"g"}}}
]},
{"width":294,"height":170,"layer":[
 {"data":{"name":"d"},"transform":[{"filter":"datum.g==='HvVRN1'&&datum.c==='B'"}],
  "encoding":{"x":{"field":"t","type":"quantitative","scale":{"domain":[-1,24],"nice":false,"zero":false},"axis":null},"color":{"field":"k","type":"nominal","scale":{"domain":["20/16°C","28/24°C"],"range":["#0072B2","#CC79A7"]},"legend":null}},
  "layer":[
   {"mark":{"type":"rule","strokeWidth":1.5},"encoding":{"y":{"field":"lo","type":"quantitative","scale":{"domain":[-0.0163,0.3615],"nice":false,"zero":false},"axis":{"values":[0,0.1,0.2,0.3],"format":".1f","title":"Normalised expression","titleX":-59,"titleY":172,"titleAngle":270,"titleAlign":"center","titleBaseline":"alphabetic"}},"y2":{"field":"hi"}}},
   {"transform":[{"filter":"datum.hi>datum.lo"},{"fold":["lo","hi"],"as":["kk","val"]}],"mark":{"type":"tick","orient":"horizontal","size":14,"thickness":1.5},"encoding":{"y":{"field":"val","type":"quantitative","scale":{"domain":[-0.0163,0.3615],"nice":false,"zero":false},"axis":{"values":[0,0.1,0.2,0.3],"format":".1f","title":"Normalised expression","titleX":-59,"titleY":172,"titleAngle":270,"titleAlign":"center","titleBaseline":"alphabetic"}}}},
   {"mark":{"type":"line","strokeWidth":2.2},"encoding":{"y":{"field":"v","type":"quantitative","scale":{"domain":[-0.0163,0.3615],"nice":false,"zero":false},"axis":{"values":[0,0.1,0.2,0.3],"format":".1f","title":"Normalised expression","titleX":-59,"titleY":172,"titleAngle":270,"titleAlign":"center","titleBaseline":"alphabetic"}}}},
   {"mark":{"type":"point","opacity":1,"strokeWidth":1},"encoding":{"y":{"field":"v","type":"quantitative","scale":{"domain":[-0.0163,0.3615],"nice":false,"zero":false},"axis":{"values":[0,0.1,0.2,0.3],"format":".1f","title":"Normalised expression","titleX":-59,"titleY":172,"titleAngle":270,"titleAlign":"center","titleBaseline":"alphabetic"}},
     "stroke":{"field":"k","type":"nominal","scale":{"domain":["20/16°C","28/24°C"],"range":["#0072B2","#CC79A7"]},"legend":null},
     "fill":{"field":"k","type":"nominal","scale":{"domain":["20/16°C","28/24°C"],"range":["#e6eff6","#CC79A7"]},"legend":null},
     "shape":{"field":"k","type":"nominal","scale":{"domain":["20/16°C","28/24°C"],"range":["square","triangle-up"]},"legend":null},
     "size":{"condition":{"test":"datum.k==='28/24°C'","value":55},"value":22}}}
  ]},
 {"data":{"values":[{"a":16,"b":24}]},"mark":{"type":"rect","color":"#a6a6a6","opacity":0.5},"encoding":{"x":{"field":"a","type":"quantitative","scale":{"domain":[-1,24],"nice":false,"zero":false},"axis":null},"x2":{"field":"b"}}},
 {"data":{"values":[{"g":"HvVRN1"}]},"mark":{"type":"text","x":"width","dx":-6,"y":18,"align":"right","baseline":"alphabetic","fontSize":15,"fontStyle":"italic","font":"Liberation Sans","color":"#000"},"encoding":{"text":{"field":"g"}}}
]},
{"width":294,"height":170,"layer":[
 {"data":{"name":"d"},"transform":[{"filter":"datum.g==='HvBM3'&&datum.c==='B'"}],
  "encoding":{"x":{"field":"t","type":"quantitative","scale":{"domain":[-1,24],"nice":false,"zero":false},"axis":null},"color":{"field":"k","type":"nominal","scale":{"domain":["20/16°C","28/24°C"],"range":["#0072B2","#CC79A7"]},"legend":null}},
  "layer":[
   {"mark":{"type":"rule","strokeWidth":1.5},"encoding":{"y":{"field":"lo","type":"quantitative","scale":{"domain":[-0.00135,0.02865],"nice":false,"zero":false},"axis":{"values":[0,0.01,0.02],"format":".2f","title":null}},"y2":{"field":"hi"}}},
   {"transform":[{"filter":"datum.hi>datum.lo"},{"fold":["lo","hi"],"as":["kk","val"]}],"mark":{"type":"tick","orient":"horizontal","size":14,"thickness":1.5},"encoding":{"y":{"field":"val","type":"quantitative","scale":{"domain":[-0.00135,0.02865],"nice":false,"zero":false},"axis":{"values":[0,0.01,0.02],"format":".2f","title":null}}}},
   {"mark":{"type":"line","strokeWidth":2.2},"encoding":{"y":{"field":"v","type":"quantitative","scale":{"domain":[-0.00135,0.02865],"nice":false,"zero":false},"axis":{"values":[0,0.01,0.02],"format":".2f","title":null}}}},
   {"mark":{"type":"point","opacity":1,"strokeWidth":1},"encoding":{"y":{"field":"v","type":"quantitative","scale":{"domain":[-0.00135,0.02865],"nice":false,"zero":false},"axis":{"values":[0,0.01,0.02],"format":".2f","title":null}},
     "stroke":{"field":"k","type":"nominal","scale":{"domain":["20/16°C","28/24°C"],"range":["#0072B2","#CC79A7"]},"legend":null},
     "fill":{"field":"k","type":"nominal","scale":{"domain":["20/16°C","28/24°C"],"range":["#e6eff6","#CC79A7"]},"legend":null},
     "shape":{"field":"k","type":"nominal","scale":{"domain":["20/16°C","28/24°C"],"range":["square","triangle-up"]},"legend":null},
     "size":{"condition":{"test":"datum.k==='28/24°C'","value":55},"value":22}}}
  ]},
 {"data":{"values":[{"a":16,"b":24}]},"mark":{"type":"rect","color":"#a6a6a6","opacity":0.5},"encoding":{"x":{"field":"a","type":"quantitative","scale":{"domain":[-1,24],"nice":false,"zero":false},"axis":null},"x2":{"field":"b"}}},
 {"data":{"values":[{"g":"HvBM3"}]},"mark":{"type":"text","x":"width","dx":-6,"y":18,"align":"right","baseline":"alphabetic","fontSize":15,"fontStyle":"italic","font":"Liberation Sans","color":"#000"},"encoding":{"text":{"field":"g"}}}
]},
{"width":294,"height":170,"layer":[
 {"data":{"name":"d"},"transform":[{"filter":"datum.g==='HvBM8'&&datum.c==='B'"}],
  "encoding":{"x":{"field":"t","type":"quantitative","scale":{"domain":[-1,24],"nice":false,"zero":false},"axis":null},"color":{"field":"k","type":"nominal","scale":{"domain":["20/16°C","28/24°C"],"range":["#0072B2","#CC79A7"]},"legend":null}},
  "layer":[
   {"mark":{"type":"rule","strokeWidth":1.5},"encoding":{"y":{"field":"lo","type":"quantitative","scale":{"domain":[-0.000131,0.001356],"nice":false,"zero":false},"axis":{"values":[0,0.0005,0.001],"format":".4f","title":null}},"y2":{"field":"hi"}}},
   {"transform":[{"filter":"datum.hi>datum.lo"},{"fold":["lo","hi"],"as":["kk","val"]}],"mark":{"type":"tick","orient":"horizontal","size":14,"thickness":1.5},"encoding":{"y":{"field":"val","type":"quantitative","scale":{"domain":[-0.000131,0.001356],"nice":false,"zero":false},"axis":{"values":[0,0.0005,0.001],"format":".4f","title":null}}}},
   {"mark":{"type":"line","strokeWidth":2.2},"encoding":{"y":{"field":"v","type":"quantitative","scale":{"domain":[-0.000131,0.001356],"nice":false,"zero":false},"axis":{"values":[0,0.0005,0.001],"format":".4f","title":null}}}},
   {"mark":{"type":"point","opacity":1,"strokeWidth":1},"encoding":{"y":{"field":"v","type":"quantitative","scale":{"domain":[-0.000131,0.001356],"nice":false,"zero":false},"axis":{"values":[0,0.0005,0.001],"format":".4f","title":null}},
     "stroke":{"field":"k","type":"nominal","scale":{"domain":["20/16°C","28/24°C"],"range":["#0072B2","#CC79A7"]},"legend":null},
     "fill":{"field":"k","type":"nominal","scale":{"domain":["20/16°C","28/24°C"],"range":["#e6eff6","#CC79A7"]},"legend":null},
     "shape":{"field":"k","type":"nominal","scale":{"domain":["20/16°C","28/24°C"],"range":["square","triangle-up"]},"legend":null},
     "size":{"condition":{"test":"datum.k==='28/24°C'","value":55},"value":22}}}
  ]},
 {"data":{"values":[{"a":16,"b":24}]},"mark":{"type":"rect","color":"#a6a6a6","opacity":0.5},"encoding":{"x":{"field":"a","type":"quantitative","scale":{"domain":[-1,24],"nice":false,"zero":false},"axis":null},"x2":{"field":"b"}}},
 {"data":{"values":[{"g":"HvBM8"}]},"mark":{"type":"text","x":"width","dx":-6,"y":18,"align":"right","baseline":"alphabetic","fontSize":15,"fontStyle":"italic","font":"Liberation Sans","color":"#000"},"encoding":{"text":{"field":"g"}}}
]},
{"width":294,"height":170,"layer":[
 {"data":{"name":"d"},"transform":[{"filter":"datum.g==='HvOS2'&&datum.c==='B'"}],
  "encoding":{"x":{"field":"t","type":"quantitative","scale":{"domain":[-1,24],"nice":false,"zero":false},"axis":{"values":[0,4,8,12,16,20],"labelExpr":"'T'+datum.value","title":null,"labelFlush":false,"labelPadding":0}},"color":{"field":"k","type":"nominal","scale":{"domain":["20/16°C","28/24°C"],"range":["#0072B2","#CC79A7"]},"legend":null}},
  "layer":[
   {"mark":{"type":"rule","strokeWidth":1.5},"encoding":{"y":{"field":"lo","type":"quantitative","scale":{"domain":[-0.0009,0.00957],"nice":false,"zero":false},"axis":{"values":[0,0.0025,0.005,0.0075],"format":".4f","title":null}},"y2":{"field":"hi"}}},
   {"transform":[{"filter":"datum.hi>datum.lo"},{"fold":["lo","hi"],"as":["kk","val"]}],"mark":{"type":"tick","orient":"horizontal","size":14,"thickness":1.5},"encoding":{"y":{"field":"val","type":"quantitative","scale":{"domain":[-0.0009,0.00957],"nice":false,"zero":false},"axis":{"values":[0,0.0025,0.005,0.0075],"format":".4f","title":null}}}},
   {"mark":{"type":"line","strokeWidth":2.2},"encoding":{"y":{"field":"v","type":"quantitative","scale":{"domain":[-0.0009,0.00957],"nice":false,"zero":false},"axis":{"values":[0,0.0025,0.005,0.0075],"format":".4f","title":null}}}},
   {"mark":{"type":"point","opacity":1,"strokeWidth":1},"encoding":{"y":{"field":"v","type":"quantitative","scale":{"domain":[-0.0009,0.00957],"nice":false,"zero":false},"axis":{"values":[0,0.0025,0.005,0.0075],"format":".4f","title":null}},
     "stroke":{"field":"k","type":"nominal","scale":{"domain":["20/16°C","28/24°C"],"range":["#0072B2","#CC79A7"]},"legend":null},
     "fill":{"field":"k","type":"nominal","scale":{"domain":["20/16°C","28/24°C"],"range":["#e6eff6","#CC79A7"]},"legend":null},
     "shape":{"field":"k","type":"nominal","scale":{"domain":["20/16°C","28/24°C"],"range":["square","triangle-up"]},"legend":null},
     "size":{"condition":{"test":"datum.k==='28/24°C'","value":55},"value":22}}}
  ]},
 {"data":{"values":[{"a":16,"b":24}]},"mark":{"type":"rect","color":"#a6a6a6","opacity":0.5},"encoding":{"x":{"field":"a","type":"quantitative","scale":{"domain":[-1,24],"nice":false,"zero":false},"axis":{"values":[0,4,8,12,16,20],"labelExpr":"'T'+datum.value","title":null,"labelFlush":false,"labelPadding":0}},"x2":{"field":"b"}}},
 {"data":{"values":[{"g":"HvOS2"}]},"mark":{"type":"text","x":"width","dx":-6,"y":18,"align":"right","baseline":"alphabetic","fontSize":15,"fontStyle":"italic","font":"Liberation Sans","color":"#000"},"encoding":{"text":{"field":"g"}}}
]}
], "bounds": "flush", "spacing": 5},
{"vconcat": [
{"width":294,"height":170,"layer":[
 {"data":{"name":"d"},"transform":[{"filter":"datum.g==='PPD-H1'&&datum.c==='E'"}],
  "encoding":{"x":{"field":"t","type":"quantitative","scale":{"domain":[-1,24],"nice":false,"zero":false},"axis":null},"color":{"field":"k","type":"nominal","scale":{"domain":["20/16°C","28/24°C"],"range":["#0072B2","#CC79A7"]},"legend":null}},
  "layer":[
   {"mark":{"type":"rule","strokeWidth":1.5},"encoding":{"y":{"field":"lo","type":"quantitative","scale":{"domain":[-0.0086,0.1664],"nice":false,"zero":false},"axis":{"values":[0,0.05,0.1,0.15],"format":".2f","title":null}},"y2":{"field":"hi"}}},
   {"transform":[{"filter":"datum.hi>datum.lo"},{"fold":["lo","hi"],"as":["kk","val"]}],"mark":{"type":"tick","orient":"horizontal","size":14,"thickness":1.5},"encoding":{"y":{"field":"val","type":"quantitative","scale":{"domain":[-0.0086,0.1664],"nice":false,"zero":false},"axis":{"values":[0,0.05,0.1,0.15],"format":".2f","title":null}}}},
   {"mark":{"type":"line","strokeWidth":2.2},"encoding":{"y":{"field":"v","type":"quantitative","scale":{"domain":[-0.0086,0.1664],"nice":false,"zero":false},"axis":{"values":[0,0.05,0.1,0.15],"format":".2f","title":null}}}},
   {"mark":{"type":"point","opacity":1,"strokeWidth":1},"encoding":{"y":{"field":"v","type":"quantitative","scale":{"domain":[-0.0086,0.1664],"nice":false,"zero":false},"axis":{"values":[0,0.05,0.1,0.15],"format":".2f","title":null}},
     "stroke":{"field":"k","type":"nominal","scale":{"domain":["20/16°C","28/24°C"],"range":["#0072B2","#CC79A7"]},"legend":null},
     "fill":{"field":"k","type":"nominal","scale":{"domain":["20/16°C","28/24°C"],"range":["#e6eff6","#CC79A7"]},"legend":null},
     "shape":{"field":"k","type":"nominal","scale":{"domain":["20/16°C","28/24°C"],"range":["square","triangle-up"]},"legend":null},
     "size":{"condition":{"test":"datum.k==='28/24°C'","value":55},"value":22}}}
  ]},
 {"data":{"values":[{"a":16,"b":24}]},"mark":{"type":"rect","color":"#a6a6a6","opacity":0.5},"encoding":{"x":{"field":"a","type":"quantitative","scale":{"domain":[-1,24],"nice":false,"zero":false},"axis":null},"x2":{"field":"b"}}},
 {"data":{"values":[{"g":"PPD-H1"}]},"mark":{"type":"text","x":"width","dx":-6,"y":18,"align":"right","baseline":"alphabetic","fontSize":15,"fontStyle":"italic","font":"Liberation Sans","color":"#000"},"encoding":{"text":{"field":"g"}}},
 {"data":{"values":[{"s":"Bowman("}]},"mark":{"type":"text","x":143,"y":-4,"align":"right","baseline":"alphabetic","fontSize":15,"font":"Liberation Sans","color":"#000"},"encoding":{"text":{"field":"s"}}},
 {"data":{"values":[{"s":"eam8"}]},"mark":{"type":"text","x":143,"y":-4,"align":"left","baseline":"alphabetic","fontSize":15,"fontStyle":"italic","font":"Liberation Sans","color":"#000"},"encoding":{"text":{"field":"s"}}},
 {"data":{"values":[{"s":")"}]},"mark":{"type":"text","x":181,"y":-4,"align":"left","baseline":"alphabetic","fontSize":15,"font":"Liberation Sans","color":"#000"},"encoding":{"text":{"field":"s"}}}
]},
{"width":294,"height":170,"layer":[
 {"data":{"name":"d"},"transform":[{"filter":"datum.g==='HvFT1'&&datum.c==='E'"}],
  "encoding":{"x":{"field":"t","type":"quantitative","scale":{"domain":[-1,24],"nice":false,"zero":false},"axis":null},"color":{"field":"k","type":"nominal","scale":{"domain":["20/16°C","28/24°C"],"range":["#0072B2","#CC79A7"]},"legend":null}},
  "layer":[
   {"mark":{"type":"rule","strokeWidth":1.5},"encoding":{"y":{"field":"lo","type":"quantitative","scale":{"domain":[-0.00236,0.0256],"nice":false,"zero":false},"axis":{"values":[0,0.01,0.02],"format":".3f","title":null}},"y2":{"field":"hi"}}},
   {"transform":[{"filter":"datum.hi>datum.lo"},{"fold":["lo","hi"],"as":["kk","val"]}],"mark":{"type":"tick","orient":"horizontal","size":14,"thickness":1.5},"encoding":{"y":{"field":"val","type":"quantitative","scale":{"domain":[-0.00236,0.0256],"nice":false,"zero":false},"axis":{"values":[0,0.01,0.02],"format":".3f","title":null}}}},
   {"mark":{"type":"line","strokeWidth":2.2},"encoding":{"y":{"field":"v","type":"quantitative","scale":{"domain":[-0.00236,0.0256],"nice":false,"zero":false},"axis":{"values":[0,0.01,0.02],"format":".3f","title":null}}}},
   {"mark":{"type":"point","opacity":1,"strokeWidth":1},"encoding":{"y":{"field":"v","type":"quantitative","scale":{"domain":[-0.00236,0.0256],"nice":false,"zero":false},"axis":{"values":[0,0.01,0.02],"format":".3f","title":null}},
     "stroke":{"field":"k","type":"nominal","scale":{"domain":["20/16°C","28/24°C"],"range":["#0072B2","#CC79A7"]},"legend":null},
     "fill":{"field":"k","type":"nominal","scale":{"domain":["20/16°C","28/24°C"],"range":["#e6eff6","#CC79A7"]},"legend":null},
     "shape":{"field":"k","type":"nominal","scale":{"domain":["20/16°C","28/24°C"],"range":["square","triangle-up"]},"legend":null},
     "size":{"condition":{"test":"datum.k==='28/24°C'","value":55},"value":22}}}
  ]},
 {"data":{"values":[{"a":16,"b":24}]},"mark":{"type":"rect","color":"#a6a6a6","opacity":0.5},"encoding":{"x":{"field":"a","type":"quantitative","scale":{"domain":[-1,24],"nice":false,"zero":false},"axis":null},"x2":{"field":"b"}}},
 {"data":{"values":[{"g":"HvFT1"}]},"mark":{"type":"text","x":"width","dx":-6,"y":18,"align":"right","baseline":"alphabetic","fontSize":15,"fontStyle":"italic","font":"Liberation Sans","color":"#000"},"encoding":{"text":{"field":"g"}}}
]},
{"width":294,"height":170,"layer":[
 {"data":{"name":"d"},"transform":[{"filter":"datum.g==='HvVRN1'&&datum.c==='E'"}],
  "encoding":{"x":{"field":"t","type":"quantitative","scale":{"domain":[-1,24],"nice":false,"zero":false},"axis":null},"color":{"field":"k","type":"nominal","scale":{"domain":["20/16°C","28/24°C"],"range":["#0072B2","#CC79A7"]},"legend":null}},
  "layer":[
   {"mark":{"type":"rule","strokeWidth":1.5},"encoding":{"y":{"field":"lo","type":"quantitative","scale":{"domain":[-0.0249,0.553],"nice":false,"zero":false},"axis":{"values":[0,0.2,0.4],"format":".1f","title":null}},"y2":{"field":"hi"}}},
   {"transform":[{"filter":"datum.hi>datum.lo"},{"fold":["lo","hi"],"as":["kk","val"]}],"mark":{"type":"tick","orient":"horizontal","size":14,"thickness":1.5},"encoding":{"y":{"field":"val","type":"quantitative","scale":{"domain":[-0.0249,0.553],"nice":false,"zero":false},"axis":{"values":[0,0.2,0.4],"format":".1f","title":null}}}},
   {"mark":{"type":"line","strokeWidth":2.2},"encoding":{"y":{"field":"v","type":"quantitative","scale":{"domain":[-0.0249,0.553],"nice":false,"zero":false},"axis":{"values":[0,0.2,0.4],"format":".1f","title":null}}}},
   {"mark":{"type":"point","opacity":1,"strokeWidth":1},"encoding":{"y":{"field":"v","type":"quantitative","scale":{"domain":[-0.0249,0.553],"nice":false,"zero":false},"axis":{"values":[0,0.2,0.4],"format":".1f","title":null}},
     "stroke":{"field":"k","type":"nominal","scale":{"domain":["20/16°C","28/24°C"],"range":["#0072B2","#CC79A7"]},"legend":null},
     "fill":{"field":"k","type":"nominal","scale":{"domain":["20/16°C","28/24°C"],"range":["#e6eff6","#CC79A7"]},"legend":null},
     "shape":{"field":"k","type":"nominal","scale":{"domain":["20/16°C","28/24°C"],"range":["square","triangle-up"]},"legend":null},
     "size":{"condition":{"test":"datum.k==='28/24°C'","value":55},"value":22}}}
  ]},
 {"data":{"values":[{"a":16,"b":24}]},"mark":{"type":"rect","color":"#a6a6a6","opacity":0.5},"encoding":{"x":{"field":"a","type":"quantitative","scale":{"domain":[-1,24],"nice":false,"zero":false},"axis":null},"x2":{"field":"b"}}},
 {"data":{"values":[{"g":"HvVRN1"}]},"mark":{"type":"text","x":"width","dx":-6,"y":18,"align":"right","baseline":"alphabetic","fontSize":15,"fontStyle":"italic","font":"Liberation Sans","color":"#000"},"encoding":{"text":{"field":"g"}}}
]},
{"width":294,"height":170,"layer":[
 {"data":{"name":"d"},"transform":[{"filter":"datum.g==='HvBM3'&&datum.c==='E'"}],
  "encoding":{"x":{"field":"t","type":"quantitative","scale":{"domain":[-1,24],"nice":false,"zero":false},"axis":null},"color":{"field":"k","type":"nominal","scale":{"domain":["20/16°C","28/24°C"],"range":["#0072B2","#CC79A7"]},"legend":null}},
  "layer":[
   {"mark":{"type":"rule","strokeWidth":1.5},"encoding":{"y":{"field":"lo","type":"quantitative","scale":{"domain":[-0.0178,0.221],"nice":false,"zero":false},"axis":{"values":[0,0.1,0.2],"format":".2f","title":null}},"y2":{"field":"hi"}}},
   {"transform":[{"filter":"datum.hi>datum.lo"},{"fold":["lo","hi"],"as":["kk","val"]}],"mark":{"type":"tick","orient":"horizontal","size":14,"thickness":1.5},"encoding":{"y":{"field":"val","type":"quantitative","scale":{"domain":[-0.0178,0.221],"nice":false,"zero":false},"axis":{"values":[0,0.1,0.2],"format":".2f","title":null}}}},
   {"mark":{"type":"line","strokeWidth":2.2},"encoding":{"y":{"field":"v","type":"quantitative","scale":{"domain":[-0.0178,0.221],"nice":false,"zero":false},"axis":{"values":[0,0.1,0.2],"format":".2f","title":null}}}},
   {"mark":{"type":"point","opacity":1,"strokeWidth":1},"encoding":{"y":{"field":"v","type":"quantitative","scale":{"domain":[-0.0178,0.221],"nice":false,"zero":false},"axis":{"values":[0,0.1,0.2],"format":".2f","title":null}},
     "stroke":{"field":"k","type":"nominal","scale":{"domain":["20/16°C","28/24°C"],"range":["#0072B2","#CC79A7"]},"legend":null},
     "fill":{"field":"k","type":"nominal","scale":{"domain":["20/16°C","28/24°C"],"range":["#e6eff6","#CC79A7"]},"legend":null},
     "shape":{"field":"k","type":"nominal","scale":{"domain":["20/16°C","28/24°C"],"range":["square","triangle-up"]},"legend":null},
     "size":{"condition":{"test":"datum.k==='28/24°C'","value":55},"value":22}}}
  ]},
 {"data":{"values":[{"a":16,"b":24}]},"mark":{"type":"rect","color":"#a6a6a6","opacity":0.5},"encoding":{"x":{"field":"a","type":"quantitative","scale":{"domain":[-1,24],"nice":false,"zero":false},"axis":null},"x2":{"field":"b"}}},
 {"data":{"values":[{"g":"HvBM3"}]},"mark":{"type":"text","x":"width","dx":-6,"y":18,"align":"right","baseline":"alphabetic","fontSize":15,"fontStyle":"italic","font":"Liberation Sans","color":"#000"},"encoding":{"text":{"field":"g"}}}
]},
{"width":294,"height":170,"layer":[
 {"data":{"name":"d"},"transform":[{"filter":"datum.g==='HvBM8'&&datum.c==='E'"}],
  "encoding":{"x":{"field":"t","type":"quantitative","scale":{"domain":[-1,24],"nice":false,"zero":false},"axis":null},"color":{"field":"k","type":"nominal","scale":{"domain":["20/16°C","28/24°C"],"range":["#0072B2","#CC79A7"]},"legend":null}},
  "layer":[
   {"mark":{"type":"rule","strokeWidth":1.5},"encoding":{"y":{"field":"lo","type":"quantitative","scale":{"domain":[-0.00148,0.01741],"nice":false,"zero":false},"axis":{"values":[0,0.005,0.01,0.015],"format":".3f","title":null}},"y2":{"field":"hi"}}},
   {"transform":[{"filter":"datum.hi>datum.lo"},{"fold":["lo","hi"],"as":["kk","val"]}],"mark":{"type":"tick","orient":"horizontal","size":14,"thickness":1.5},"encoding":{"y":{"field":"val","type":"quantitative","scale":{"domain":[-0.00148,0.01741],"nice":false,"zero":false},"axis":{"values":[0,0.005,0.01,0.015],"format":".3f","title":null}}}},
   {"mark":{"type":"line","strokeWidth":2.2},"encoding":{"y":{"field":"v","type":"quantitative","scale":{"domain":[-0.00148,0.01741],"nice":false,"zero":false},"axis":{"values":[0,0.005,0.01,0.015],"format":".3f","title":null}}}},
   {"mark":{"type":"point","opacity":1,"strokeWidth":1},"encoding":{"y":{"field":"v","type":"quantitative","scale":{"domain":[-0.00148,0.01741],"nice":false,"zero":false},"axis":{"values":[0,0.005,0.01,0.015],"format":".3f","title":null}},
     "stroke":{"field":"k","type":"nominal","scale":{"domain":["20/16°C","28/24°C"],"range":["#0072B2","#CC79A7"]},"legend":null},
     "fill":{"field":"k","type":"nominal","scale":{"domain":["20/16°C","28/24°C"],"range":["#e6eff6","#CC79A7"]},"legend":null},
     "shape":{"field":"k","type":"nominal","scale":{"domain":["20/16°C","28/24°C"],"range":["square","triangle-up"]},"legend":null},
     "size":{"condition":{"test":"datum.k==='28/24°C'","value":55},"value":22}}}
  ]},
 {"data":{"values":[{"a":16,"b":24}]},"mark":{"type":"rect","color":"#a6a6a6","opacity":0.5},"encoding":{"x":{"field":"a","type":"quantitative","scale":{"domain":[-1,24],"nice":false,"zero":false},"axis":null},"x2":{"field":"b"}}},
 {"data":{"values":[{"g":"HvBM8"}]},"mark":{"type":"text","x":"width","dx":-6,"y":18,"align":"right","baseline":"alphabetic","fontSize":15,"fontStyle":"italic","font":"Liberation Sans","color":"#000"},"encoding":{"text":{"field":"g"}}}
]},
{"width":294,"height":170,"layer":[
 {"data":{"name":"d"},"transform":[{"filter":"datum.g==='HvOS2'&&datum.c==='E'"}],
  "encoding":{"x":{"field":"t","type":"quantitative","scale":{"domain":[-1,24],"nice":false,"zero":false},"axis":{"values":[0,4,8,12,16,20],"labelExpr":"'T'+datum.value","title":null,"labelFlush":false,"labelPadding":0}},"color":{"field":"k","type":"nominal","scale":{"domain":["20/16°C","28/24°C"],"range":["#0072B2","#CC79A7"]},"legend":null}},
  "layer":[
   {"mark":{"type":"rule","strokeWidth":1.5},"encoding":{"y":{"field":"lo","type":"quantitative","scale":{"domain":[-0.00038,0.00483],"nice":false,"zero":false},"axis":{"values":[0,0.002,0.004],"format":".3f","title":null}},"y2":{"field":"hi"}}},
   {"transform":[{"filter":"datum.hi>datum.lo"},{"fold":["lo","hi"],"as":["kk","val"]}],"mark":{"type":"tick","orient":"horizontal","size":14,"thickness":1.5},"encoding":{"y":{"field":"val","type":"quantitative","scale":{"domain":[-0.00038,0.00483],"nice":false,"zero":false},"axis":{"values":[0,0.002,0.004],"format":".3f","title":null}}}},
   {"mark":{"type":"line","strokeWidth":2.2},"encoding":{"y":{"field":"v","type":"quantitative","scale":{"domain":[-0.00038,0.00483],"nice":false,"zero":false},"axis":{"values":[0,0.002,0.004],"format":".3f","title":null}}}},
   {"mark":{"type":"point","opacity":1,"strokeWidth":1},"encoding":{"y":{"field":"v","type":"quantitative","scale":{"domain":[-0.00038,0.00483],"nice":false,"zero":false},"axis":{"values":[0,0.002,0.004],"format":".3f","title":null}},
     "stroke":{"field":"k","type":"nominal","scale":{"domain":["20/16°C","28/24°C"],"range":["#0072B2","#CC79A7"]},"legend":null},
     "fill":{"field":"k","type":"nominal","scale":{"domain":["20/16°C","28/24°C"],"range":["#e6eff6","#CC79A7"]},"legend":null},
     "shape":{"field":"k","type":"nominal","scale":{"domain":["20/16°C","28/24°C"],"range":["square","triangle-up"]},"legend":null},
     "size":{"condition":{"test":"datum.k==='28/24°C'","value":55},"value":22}}}
  ]},
 {"data":{"values":[{"a":16,"b":24}]},"mark":{"type":"rect","color":"#a6a6a6","opacity":0.5},"encoding":{"x":{"field":"a","type":"quantitative","scale":{"domain":[-1,24],"nice":false,"zero":false},"axis":{"values":[0,4,8,12,16,20],"labelExpr":"'T'+datum.value","title":null,"labelFlush":false,"labelPadding":0}},"x2":{"field":"b"}}},
 {"data":{"values":[{"g":"HvOS2"}]},"mark":{"type":"text","x":"width","dx":-6,"y":18,"align":"right","baseline":"alphabetic","fontSize":15,"fontStyle":"italic","font":"Liberation Sans","color":"#000"},"encoding":{"text":{"field":"g"}}}
]}
], "bounds": "flush", "spacing": 5}
],
"config": {
 "font": "Liberation Sans",
 "view": {"stroke": "#7f7f7f", "strokeWidth": 1},
 "axis": {"labelFont": "Liberation Sans", "labelFontSize": 15, "labelColor": "#000000", "tickColor": "#333333", "tickSize": 4, "tickWidth": 1, "labelPadding": 2, "domain": false, "grid": false, "titleFont": "Liberation Sans", "titleFontSize": 15, "titleFontWeight": "normal", "titleColor": "#000000"},
 "legend": {"orient": "top-left", "offset": 5, "padding": 0, "labelFont": "Liberation Sans", "labelFontSize": 15, "labelColor": "#000000", "symbolSize": 50, "symbolStrokeWidth": 1.5, "labelOffset": 13, "rowPadding": 2}
}
}
